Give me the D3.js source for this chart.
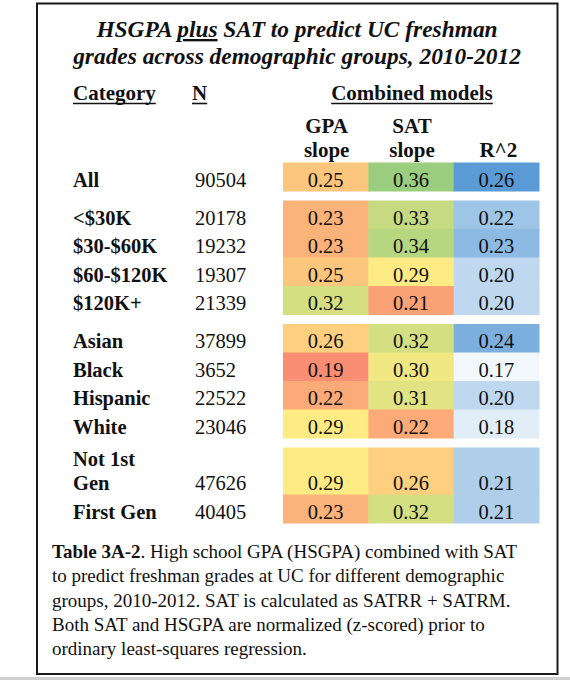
<!DOCTYPE html>
<html>
<head>
<meta charset="utf-8">
<script src="https://cdn.jsdelivr.net/npm/d3@7"></script>
<style>
  html, body { margin: 0; padding: 0; background: #fff; }
  svg { display: block; }
  text { font-family: "Liberation Serif", "Times New Roman", serif; fill: #111; }
</style>
</head>
<body>
<div id="chart"></div>
<script>
// ---------------- data ----------------
const titleLines = ["HSGPA plus SAT to predict UC freshman", "grades across demographic groups, 2010-2012"];
const categories = ["All", "<$30K", "$30-$60K", "$60-$120K", "$120K+", "Asian", "Black", "Hispanic", "White", "Not 1st Gen", "First Gen"];
const groups     = [0, 1, 1, 1, 1, 2, 2, 2, 2, 3, 3];
const nValues    = [90504, 20178, 19232, 19307, 21339, 37899, 3652, 22522, 23046, 47626, 40405];
const gpaSlope   = [0.25, 0.23, 0.23, 0.25, 0.32, 0.26, 0.19, 0.22, 0.29, 0.29, 0.23];
const satSlope   = [0.36, 0.33, 0.34, 0.29, 0.21, 0.32, 0.30, 0.31, 0.22, 0.26, 0.32];
const rSquared   = [0.26, 0.22, 0.23, 0.20, 0.20, 0.24, 0.17, 0.20, 0.18, 0.21, 0.21];
const columnKeys = ["GPA slope", "SAT slope", "R^2"];
const captionLines = [
  ["Table 3A-2", ". High school GPA (HSGPA) combined with SAT"],
  ["", "to predict freshman grades at UC for different demographic"],
  ["", "groups, 2010-2012. SAT is calculated as SATRR + SATRM."],
  ["", "Both SAT and HSGPA are normalized (z-scored) prior to"],
  ["", "ordinary least-squares regression."]
];

// ---------------- setup ----------------
const W = 570, H = 680;
const svg = d3.select("#chart").append("svg").attr("width", W).attr("height", H);

svg.append("rect").attr("x", 0).attr("y", 0).attr("width", W).attr("height", H).attr("fill", "#fff");
svg.append("rect").attr("x", 0).attr("y", 677).attr("width", W).attr("height", 3).attr("fill", "#cfcfcf");
svg.append("rect").attr("x", 37).attr("y", 3.5).attr("width", 520.5).attr("height", 670.5)
  .attr("fill", "none").attr("stroke", "#1a1a1a").attr("stroke-width", 2);

// title
const title = svg.append("g");
const t1 = title.append("text").attr("x", 297).attr("y", 37).attr("text-anchor", "middle")
  .style("font-size", "23.4px").style("font-weight", "bold").style("font-style", "italic");
t1.append("tspan").text("HSGPA ");
t1.append("tspan").text("plus").attr("text-decoration", "underline").style("text-decoration", "underline");
t1.append("tspan").text(" SAT to predict UC freshman");
title.append("text").attr("x", 297).attr("y", 64).attr("text-anchor", "middle")
  .style("font-size", "23.4px").style("font-weight", "bold").style("font-style", "italic")
  .text(titleLines[1]);

// ---------------- scales ----------------
const x = d3.scaleBand().domain(columnKeys).range([283, 539]).paddingInner(0).paddingOuter(0);

// row layout: standard row height, taller two-line row, gaps between groups
const rowH = 28.5, tallH = 47, gap = 9.5, top0 = 162.5;
const rows = [];
let yCursor = top0;
categories.forEach((c, i) => {
  if (i > 0 && groups[i] !== groups[i - 1]) yCursor += gap;
  const h = c === "Not 1st Gen" ? tallH : rowH;
  rows.push({ cat: c, n: nValues[i], vals: [gpaSlope[i], satSlope[i], rSquared[i]], y: yCursor, h });
  yCursor += h;
});

const slopeColor = d3.scaleLinear().domain([0.15, 0.29, 0.398])
  .range(["#F8696B", "#FFEB84", "#63BE7B"]).interpolate(d3.interpolateRgb).clamp(true);
const r2Color = d3.scaleLinear().domain([0.162, 0.26])
  .range(["#FFFFFF", "#5B9BD5"]).interpolate(d3.interpolateRgb).clamp(true);

// ---------------- headers ----------------
const hdr = svg.append("g").style("font-weight", "bold").style("font-size", "21px");
function underlined(g, txt, xx, yy, anchor) {
  const t = g.append("text").attr("x", xx).attr("y", yy).attr("text-anchor", anchor).text(txt);
  const w = t.node().getComputedTextLength();
  const x0 = anchor === "middle" ? xx - w / 2 : xx;
  g.append("line").attr("x1", x0).attr("x2", x0 + w).attr("y1", yy + 3.5).attr("y2", yy + 3.5)
    .attr("stroke", "#111").attr("stroke-width", 1.6);
}
underlined(hdr, "Category", 73, 100, "start");
underlined(hdr, "N", 192, 100, "start");
underlined(hdr, "Combined models", 412, 100, "middle");

const sub = svg.append("g").style("font-weight", "bold").style("font-size", "21px").attr("text-anchor", "middle");
const subHeads = [["GPA", "slope"], ["SAT", "slope"], ["", "R^2"]];
columnKeys.forEach((k, j) => {
  const cx = x(k) + x.bandwidth() / 2 + (j === 2 ? 2 : 1);
  sub.append("text").attr("x", cx).attr("y", 133).text(subHeads[j][0]);
  sub.append("text").attr("x", cx).attr("y", 157).text(subHeads[j][1]);
});

// ---------------- cells ----------------
const body = svg.append("g");
rows.forEach(r => {
  r.vals.forEach((v, j) => {
    const k = columnKeys[j];
    body.append("rect").attr("x", x(k)).attr("y", r.y).attr("width", x.bandwidth() + 0.5).attr("height", r.h + 0.5)
      .attr("fill", j < 2 ? slopeColor(v) : r2Color(v));
    body.append("text").attr("x", x(k) + x.bandwidth() / 2).attr("y", r.y + r.h - 4.5)
      .attr("text-anchor", "middle").style("font-size", "20.5px").text(v.toFixed(2));
  });
  // category label
  const base = r.y + r.h - 4.5;
  const lbl = s => body.append("text").attr("x", 73).style("font-size", "20.5px").style("font-weight", "bold").text(s);
  if (r.cat === "Not 1st Gen") {
    lbl("Not 1st").attr("y", base - 24);
    lbl("Gen").attr("y", base);
  } else {
    lbl(r.cat).attr("y", base);
  }
  body.append("text").attr("x", 195).attr("y", base).style("font-size", "20.5px").text(r.n);
});

// ---------------- caption ----------------
const cap = svg.append("g").style("font-size", "19px");
captionLines.forEach((ln, i) => {
  const t = cap.append("text").attr("x", 52).attr("y", 558 + i * 24.3);
  if (ln[0]) t.append("tspan").style("font-weight", "bold").text(ln[0]);
  t.append("tspan").text(ln[1]);
});
</script>
</body>
</html>
